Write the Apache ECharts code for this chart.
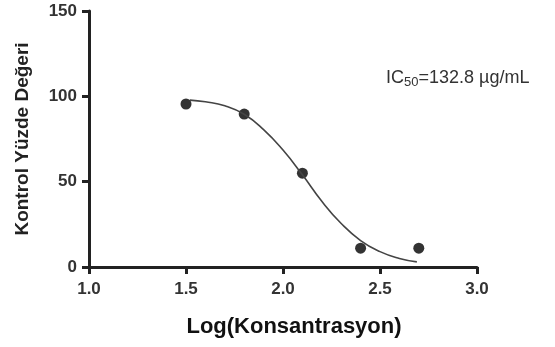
<!DOCTYPE html>
<html>
<head>
<meta charset="utf-8">
<script src="https://cdn.jsdelivr.net/npm/echarts@6/dist/echarts.min.js"></script>
<style>
  html, body { margin: 0; padding: 0; background: #fff; }
  #chart { width: 555px; height: 347px; }
</style>
</head>
<body>
<div id="chart"></div>
<script>
// measured points
var logConc = [1.5, 1.8, 2.1, 2.4, 2.7];
var percent = [95.5, 89.6, 55, 11, 11];

// fitted curve
var fitX = [1.52, 1.6, 1.7, 1.8, 1.9, 2.0, 2.1, 2.2, 2.3, 2.4, 2.5, 2.6, 2.69];
var fitY = [97.8, 96.8, 94.5, 89.5, 80.5, 68.5, 54, 38.5, 25.5, 15.5, 9, 5, 3];

var xTicks = [1.0, 1.5, 2.0, 2.5, 3.0];
var yTicks = [0, 50, 100, 150];

var myChart = echarts.init(document.getElementById('chart'));

var axisCol = '#222';
var labelFont = 'Liberation Sans, Arial, sans-serif';

var option = {
    animation: false,
    backgroundColor: '#fff',
    grid: { left: 89, right: 78, top: 11, bottom: 80 },
    title: {
        left: 381, top: 62,
        text: '{a|IC}{s|50}{a|=132.8 µg/mL}',
        textStyle: {
            fontWeight: 'normal',
            rich: {
                a: { fontFamily: labelFont, fontSize: 18, fontWeight: 'normal', color: '#333' },
                s: { fontFamily: labelFont, fontSize: 13, fontWeight: 'normal', color: '#333', verticalAlign: 'bottom', padding: [9, 0, 0, 0] }
            }
        }
    },
    xAxis: {
        type: 'value',
        min: 1, max: 3, interval: 0.5,
        name: 'Log(Konsantrasyon)',
        nameLocation: 'middle',
        nameGap: 49,
        nameTextStyle: { fontFamily: labelFont, fontWeight: 'bold', fontSize: 22, color: '#111', padding: [0, 0, 0, 22] },
        axisLine: { show: true, lineStyle: { color: axisCol, width: 3 } },
        axisTick: { show: true, length: 7, lineStyle: { color: axisCol, width: 3 } },
        axisLabel: {
            fontFamily: labelFont, fontWeight: 'bold', fontSize: 17, color: '#333', margin: 14,
            formatter: function (v) { return v.toFixed(1); }
        },
        splitLine: { show: false }
    },
    yAxis: {
        type: 'value',
        min: 0, max: 150, interval: 50,
        name: 'Kontrol Yüzde Değeri',
        nameLocation: 'middle',
        nameGap: 57,
        nameTextStyle: { fontFamily: labelFont, fontWeight: 'bold', fontSize: 19, color: '#222' },
        axisLine: { show: true, lineStyle: { color: axisCol, width: 3 } },
        axisTick: { show: true, length: 7, lineStyle: { color: axisCol, width: 3 } },
        axisLabel: { fontFamily: labelFont, fontWeight: 'bold', fontSize: 17, color: '#333', margin: 12 },
        splitLine: { show: false }
    },
    series: [
        {
            name: 'fit',
            type: 'line',
            smooth: true,
            showSymbol: false,
            lineStyle: { color: '#444', width: 1.6 },
            data: fitX.map(function (x, i) { return [x, fitY[i]]; })
        },
        {
            name: 'data',
            type: 'scatter',
            symbolSize: 11,
            itemStyle: { color: '#000' },
            data: logConc.map(function (x, i) { return [x, percent[i]]; })
        }
    ]
};

myChart.setOption(option);
</script>
</body>
</html>
